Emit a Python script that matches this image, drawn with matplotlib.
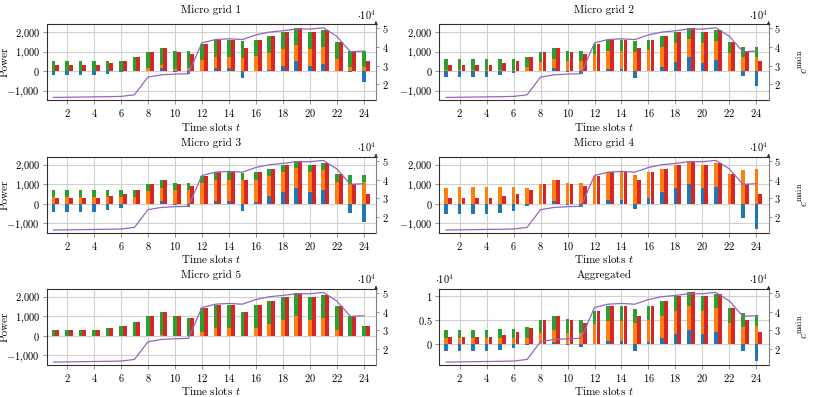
import matplotlib
matplotlib.use("Agg")
import matplotlib.pyplot as plt
import numpy as np
from matplotlib.ticker import FuncFormatter

plt.rcParams.update({
    "font.family": "serif",
    "font.serif": ["cmr10"],
    "mathtext.fontset": "cm",
    "axes.formatter.use_mathtext": True,
    "axes.unicode_minus": False,
    "font.size": 7.5,
})

slots = np.arange(1, 25)

# demand of every micro grid (red bars)
demand = [300, 300, 300, 300, 400, 500, 700, 1000, 1200, 1000, 900, 1400,
          1600, 1600, 1200, 1600, 1800, 2000, 2200, 2000, 2100, 1500, 1000, 500]

# c^main price curve (right axis)
c_main = [13000, 13100, 13200, 13300, 13400, 13550, 14400, 23900, 25100, 25500,
          25700, 42200, 44000, 44400, 44000, 46500, 48000, 48700, 49600, 49600,
          50300, 45700, 37500, 37800]

# micro grid 1
blue_1 = [-200, -200, -200, -200, -130, -30, 0, 0, 150, -50, -150, 0,
          150, 150, -350, 0, 50, 280, 500, 240, 360, 0, -30, -550]
orange_1 = [0, 0, 0, 0, 0, 0, 0, 150, 180, 100, 150, 560,
            550, 550, 680, 750, 870, 850, 850, 890, 890, 620, 200, 200]
green_1 = [500, 500, 500, 500, 530, 530, 700, 850, 870, 950, 900, 840,
           900, 900, 870, 850, 880, 870, 850, 870, 850, 880, 830, 850]

# micro grid 2
blue_2 = [-300, -300, -300, -300, -200, -100, 0, 0, 140, -50, -150, 0,
          120, 120, -350, 0, 220, 480, 700, 440, 560, 0, -250, -750]
orange_2 = [50, 50, 50, 50, 50, 50, 200, 480, 480, 510, 500, 870,
            910, 910, 1000, 1070, 1010, 950, 950, 990, 970, 930, 700, 700]
green_2 = [550, 550, 550, 550, 550, 550, 500, 520, 580, 540, 550, 530,
           570, 570, 550, 530, 570, 570, 550, 570, 570, 570, 550, 550]

# micro grid 3
blue_3 = [-400, -400, -400, -400, -300, -200, 0, 0, 130, -50, -150, 0,
          130, 130, -350, 100, 380, 620, 830, 600, 700, 0, -450, -950]
orange_3 = [350, 350, 350, 350, 350, 370, 370, 650, 690, 700, 700, 1080,
            1090, 1090, 1200, 1120, 1040, 1000, 990, 1030, 1020, 1120, 1000, 1100]
green_3 = [350, 350, 350, 350, 350, 330, 330, 350, 380, 350, 350, 320,
           380, 380, 350, 380, 380, 380, 380, 370, 380, 380, 450, 350]

# micro grid 4
blue_4 = [-530, -550, -550, -550, -470, -370, -130, -30, 120, -80, -180, -30,
          200, 200, -280, 300, 580, 800, 1020, 780, 880, 0, -750, -1270]
orange_4 = [830, 850, 850, 850, 870, 870, 830, 1030, 1080, 1080, 1080, 1430,
            1400, 1400, 1480, 1300, 1220, 1200, 1180, 1220, 1220, 1500, 1750, 1770]
green_4 = [0] * 24

# micro grid 5
blue_5 = [0] * 24
orange_5 = [0, 0, 0, 0, 0, 0, 0, 0, 30, 0, 0, 200,
            400, 400, 0, 400, 620, 800, 1020, 800, 920, 300, 0, 0]
green_5 = [300, 300, 300, 300, 400, 500, 700, 1000, 1170, 1000, 900, 1200,
           1200, 1200, 1200, 1200, 1180, 1200, 1180, 1200, 1180, 1200, 1000, 500]

titles = ["Micro grid 1", "Micro grid 2", "Micro grid 3",
          "Micro grid 4", "Micro grid 5", "Aggregated"]

BLUE = "#1f77b4"
ORANGE = "#ff7f0e"
GREEN = "#2ca02c"
RED = "#d62728"
PURPLE = "#9467bd"


def fmt_power(v, pos):
    s = f"{abs(int(round(v))):,}".replace(",", "{,}")
    return f"$-{s}$" if v < 0 else f"${s}$"


def fmt_agg(v, pos):
    return f"${v / 1e4:g}$"


def draw_panel(ax, blue, orange, green, red, title, col, agg=False):
    blue = np.array(blue, dtype=float)
    orange = np.array(orange, dtype=float)
    green = np.array(green, dtype=float)
    w = 0.28
    base = np.maximum(blue, 0)
    ax.bar(slots, blue, width=w, color=BLUE, zorder=2)
    ax.bar(slots, orange, width=w, bottom=base, color=ORANGE, zorder=2)
    ax.bar(slots, green, width=w, bottom=base + orange, color=GREEN, zorder=2)
    ax.bar(slots + 0.29, red, width=w, color=RED, zorder=2)

    ax.set_xlim(0.5, 24.9)
    ax.set_xticks(np.arange(2, 25, 2))
    if agg:
        ax.set_ylim(-4240, 11600)
        ax.set_yticks([0, 5000, 10000])
        ax.yaxis.set_major_formatter(FuncFormatter(fmt_agg))
        ax.text(-0.012, 1.03, r"$\cdot 10^4$", transform=ax.transAxes,
                ha="left", va="bottom")
    else:
        ax.set_ylim(-1480, 2410)
        ax.set_yticks([-1000, 0, 1000, 2000])
        ax.yaxis.set_major_formatter(FuncFormatter(fmt_power))
    ax.xaxis.set_major_formatter(FuncFormatter(lambda v, p: f"${int(v)}$"))
    ax.grid(True, color="#d0d0d0", lw=0.8)
    ax.set_axisbelow(True)
    ax.tick_params(direction="out", length=3, width=0.6, color="#808080", pad=2)
    for s in ["left", "top", "bottom"]:
        ax.spines[s].set_color("#303030")
        ax.spines[s].set_linewidth(0.8)
    ax.spines["right"].set_visible(False)
    ax.set_title(title, fontsize=8, pad=8)
    ax.set_xlabel("Time slots $t$", fontsize=8)
    ax.xaxis.set_label_coords(0.5, -0.27)
    if col == 0:
        ax.set_ylabel("Power", fontsize=8)
        ax.yaxis.set_label_coords(-0.114, 0.5)

    ax2 = ax.twinx()
    ax2.plot(slots, c_main, color=PURPLE, lw=0.9, zorder=3)
    ax2.set_ylim(11600, 52300)
    ax2.set_yticks([20000, 30000, 40000, 50000])
    ax2.yaxis.set_major_formatter(FuncFormatter(lambda v, p: f"${int(v / 1e4)}$"))
    ax2.tick_params(direction="out", length=2.5, width=0.6, color="#808080", pad=1.5)
    for s in ["left", "top", "bottom"]:
        ax2.spines[s].set_visible(False)
    ax2.spines["right"].set_color("#808080")
    ax2.spines["right"].set_linewidth(0.8)
    ax2.annotate("", xy=(1.0, 1.04), xytext=(1.0, 0.98), xycoords="axes fraction",
                 arrowprops=dict(arrowstyle="-|>", color="#303030", lw=0.6,
                                 mutation_scale=5))
    ax2.text(1.0, 1.03, r"$\cdot 10^4$", transform=ax2.transAxes,
             ha="right", va="bottom")
    if col == 1:
        ax2.set_ylabel(r"$c^{\mathrm{main}}$", fontsize=8, rotation=90)
        ax2.yaxis.set_label_coords(1.08, 0.5)


fig = plt.figure(figsize=(8.14, 3.97), dpi=100)
lefts = [0.0574, 0.5397]
bottoms = [0.748, 0.414, 0.0814]
width, height = 0.4045, 0.1914

blues = [blue_1, blue_2, blue_3, blue_4, blue_5]
oranges = [orange_1, orange_2, orange_3, orange_4, orange_5]
greens = [green_1, green_2, green_3, green_4, green_5]

for i in range(5):
    ax = fig.add_axes([lefts[i % 2], bottoms[i // 2], width, height])
    draw_panel(ax, blues[i], oranges[i], greens[i], demand, titles[i], i % 2)

# aggregated = sum over the micro grids
agg_blue = np.sum(blues, axis=0)
agg_orange = np.sum(oranges, axis=0)
agg_green = np.sum(greens, axis=0)
agg_red = np.array(demand) * 5
ax = fig.add_axes([lefts[1], bottoms[2], width, height])
draw_panel(ax, agg_blue, agg_orange, agg_green, agg_red, titles[5], 1, agg=True)

fig.savefig("out.png", dpi=100)
